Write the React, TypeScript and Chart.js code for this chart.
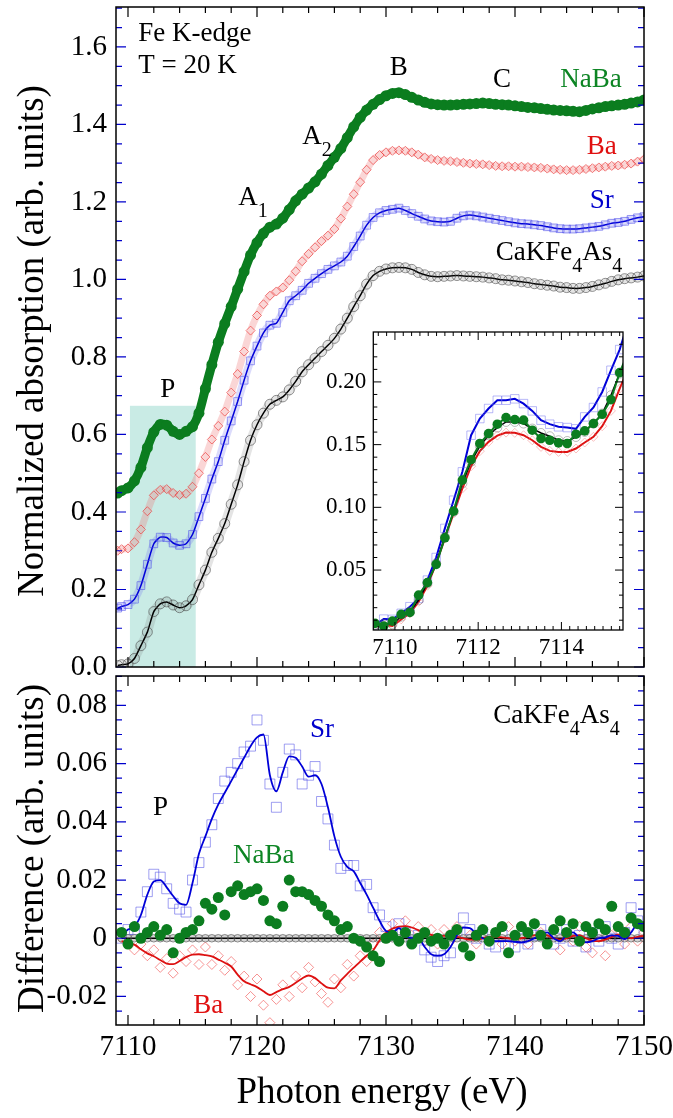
import React, { useEffect, useRef } from 'react';
import { Chart, registerables } from 'chart.js';

Chart.register(...registerables);

const FONT = "'Liberation Serif', 'Times New Roman', Times, serif";
const GREEN = '#0b7d1f';
const RED = '#dd1111';
const BLUE = '#0000d8';
const TICK_BLUE = '#0000cc';

// ---------------- Main panel (normalized absorption) ----------------
const energyMain = [
  7109.2, 7109.5, 7110.0, 7110.5, 7111.0, 7111.5, 7112.0, 7112.5, 7113.0, 7113.5, 7114.0, 7114.5, 7115.0, 7115.5,
  7116.0, 7116.5, 7117.0, 7117.5, 7118.0, 7118.5, 7119.0, 7119.5, 7120.0, 7120.5, 7121.0, 7121.5, 7122.0, 7122.5,
  7123.0, 7123.5, 7124.0, 7124.5, 7125.0, 7125.5, 7126.0, 7126.5, 7127.0, 7127.5, 7128.0, 7128.5, 7129.0, 7129.5,
  7130.0, 7130.5, 7131.0, 7131.5, 7132.0, 7132.5, 7133.0, 7133.5, 7134.0, 7134.5, 7135.0, 7135.5, 7136.0, 7136.5,
  7137.0, 7137.5, 7138.0, 7138.5, 7139.0, 7139.5, 7140.0, 7140.5, 7141.0, 7141.5, 7142.0, 7142.5, 7143.0, 7143.5,
  7144.0, 7144.5, 7145.0, 7145.5, 7146.0, 7146.5, 7147.0, 7147.5, 7148.0, 7148.5, 7149.0, 7149.5, 7150.0,
];
const naBaMain = [
  0.449, 0.455, 0.462, 0.480, 0.515, 0.566, 0.606, 0.626, 0.624, 0.608, 0.600, 0.608, 0.620, 0.655,
  0.718, 0.780, 0.838, 0.886, 0.930, 0.975, 1.020, 1.063, 1.095, 1.119, 1.135, 1.143, 1.158, 1.180,
  1.203, 1.220, 1.236, 1.252, 1.272, 1.294, 1.315, 1.338, 1.366, 1.394, 1.418, 1.437, 1.452, 1.464,
  1.474, 1.480, 1.482, 1.477, 1.470, 1.463, 1.457, 1.453, 1.451, 1.450, 1.450, 1.451, 1.452, 1.453,
  1.454, 1.455, 1.454, 1.452, 1.451, 1.450, 1.448, 1.446, 1.444, 1.443, 1.441, 1.439, 1.437, 1.436,
  1.435, 1.434, 1.433, 1.436, 1.440, 1.443, 1.446, 1.448, 1.450, 1.452, 1.455, 1.458, 1.463,
];
const baMain = [
  0.300, 0.304, 0.306, 0.322, 0.355, 0.402, 0.443, 0.457, 0.459, 0.449, 0.444, 0.447, 0.465, 0.500,
  0.542, 0.587, 0.622, 0.659, 0.708, 0.756, 0.814, 0.868, 0.907, 0.936, 0.958, 0.969, 0.979, 0.998,
  1.021, 1.047, 1.066, 1.083, 1.099, 1.113, 1.130, 1.157, 1.188, 1.220, 1.251, 1.283, 1.308, 1.321,
  1.328, 1.332, 1.333, 1.332, 1.328, 1.322, 1.315, 1.311, 1.308, 1.306, 1.305, 1.303, 1.301, 1.299,
  1.298, 1.297, 1.295, 1.293, 1.292, 1.292, 1.291, 1.291, 1.290, 1.289, 1.288, 1.286, 1.284, 1.283,
  1.282, 1.282, 1.283, 1.285, 1.287, 1.289, 1.291, 1.293, 1.294, 1.296, 1.299, 1.304, 1.310,
];
const srMain = [
  0.152, 0.156, 0.161, 0.175, 0.210, 0.265, 0.318, 0.335, 0.334, 0.320, 0.314, 0.318, 0.342, 0.388,
  0.435, 0.485, 0.530, 0.585, 0.635, 0.685, 0.740, 0.790, 0.828, 0.862, 0.882, 0.887, 0.915, 0.945,
  0.958, 0.972, 0.990, 1.003, 1.015, 1.026, 1.035, 1.045, 1.060, 1.085, 1.112, 1.140, 1.160, 1.172,
  1.178, 1.181, 1.184, 1.178, 1.170, 1.163, 1.156, 1.151, 1.149, 1.148, 1.150, 1.158, 1.164, 1.166,
  1.164, 1.161, 1.158, 1.155, 1.152, 1.149, 1.146, 1.144, 1.143, 1.141, 1.139, 1.136, 1.133, 1.131,
  1.130, 1.130, 1.131, 1.133, 1.135, 1.137, 1.141, 1.145, 1.147, 1.150, 1.155, 1.159, 1.162,
];
const caMain = [
  0.004, 0.006, 0.008, 0.022, 0.055, 0.090, 0.143, 0.163, 0.168, 0.160, 0.153, 0.158, 0.174, 0.212,
  0.250, 0.296, 0.332, 0.370, 0.420, 0.470, 0.530, 0.585, 0.625, 0.655, 0.678, 0.688, 0.697, 0.715,
  0.737, 0.762, 0.780, 0.797, 0.814, 0.830, 0.848, 0.872, 0.900, 0.930, 0.958, 0.988, 1.010, 1.021,
  1.027, 1.030, 1.031, 1.030, 1.026, 1.018, 1.012, 1.008, 1.007, 1.008, 1.009, 1.010, 1.009, 1.008,
  1.007, 1.006, 1.004, 1.002, 0.999, 0.998, 0.996, 0.994, 0.992, 0.989, 0.987, 0.985, 0.983, 0.980,
  0.979, 0.977, 0.977, 0.979, 0.982, 0.986, 0.990, 0.995, 0.999, 1.002, 1.004, 1.006, 1.009,
];
const mainYTicks = [0, 0.2, 0.4, 0.6, 0.8, 1.0, 1.2, 1.4, 1.6];

// ---------------- Inset (pre-edge, offsets removed) ----------------
const energyInset = [
  7109.52, 7109.73, 7109.94, 7110.15, 7110.36, 7110.57, 7110.78, 7110.99, 7111.2, 7111.41,
  7111.62, 7111.83, 7112.04, 7112.25, 7112.46, 7112.67, 7112.88, 7113.09, 7113.3, 7113.51,
  7113.72, 7113.93, 7114.14, 7114.35, 7114.56, 7114.77, 7114.98, 7115.19, 7115.4, 7115.61,
];
const srInset = [
  0.0062, 0.0109, 0.0107, 0.0155, 0.0208, 0.0274, 0.042, 0.060, 0.0832, 0.1057,
  0.1283, 0.1575, 0.1708, 0.1788, 0.1854, 0.1854, 0.1865, 0.1827, 0.1769, 0.1695,
  0.1663, 0.1642, 0.1636, 0.1626, 0.1721, 0.1796, 0.192, 0.2093, 0.2258, 0.248,
];
const baInset = [
  0.0054, 0.0062, 0.0054, 0.0107, 0.0155, 0.0247, 0.0375, 0.0553, 0.0752, 0.0951,
  0.115, 0.1328, 0.1448, 0.1522, 0.1572, 0.1596, 0.1594, 0.1575, 0.1535, 0.1482,
  0.145, 0.1442, 0.1442, 0.1469, 0.1517, 0.1562, 0.1647, 0.1769, 0.1947, 0.211,
];
const caInset = [
  0.0062, 0.007, 0.007, 0.0128, 0.0168, 0.0261, 0.0393, 0.0553, 0.0765, 0.0964,
  0.119, 0.1363, 0.1488, 0.1575, 0.1636, 0.1681, 0.1681, 0.1668, 0.1628, 0.1593,
  0.1567, 0.1535, 0.1529, 0.1561, 0.1601, 0.1668, 0.1748, 0.1894, 0.2066, 0.222,
];
const naBaInset = [
  0.0075, 0.0054, 0.0093, 0.0147, 0.0162, 0.030, 0.040, 0.0545, 0.0757, 0.097,
  0.1217, 0.138, 0.1509, 0.1588, 0.1663, 0.1716, 0.170, 0.1695, 0.1615, 0.1549,
  0.1535, 0.1514, 0.1509, 0.1583, 0.161, 0.1668, 0.1742, 0.1859, 0.2074, 0.224,
];
const insetXTicks = [7110, 7112, 7114];
const insetYTicks = [0.05, 0.10, 0.15, 0.20];

// ---------------- Difference panel ----------------
const energyDiff = [
  7109.5, 7110.0, 7110.5, 7111.0, 7111.5, 7112.0, 7112.5, 7113.0, 7113.5, 7114.0,
  7114.5, 7115.0, 7115.5, 7116.0, 7116.5, 7117.0, 7117.5, 7118.0, 7118.5, 7119.0,
  7119.5, 7120.0, 7120.5, 7121.0, 7121.5, 7122.0, 7122.5, 7123.0, 7123.5, 7124.0,
  7124.5, 7125.0, 7125.5, 7126.0, 7126.5, 7127.0, 7127.5, 7128.0, 7128.5, 7129.0,
  7129.5, 7130.0, 7130.5, 7131.0, 7131.5, 7132.0, 7132.5, 7133.0, 7133.5, 7134.0,
  7134.5, 7135.0, 7135.5, 7136.0, 7136.5, 7137.0, 7137.5, 7138.0, 7138.5, 7139.0,
  7139.5, 7140.0, 7140.5, 7141.0, 7141.5, 7142.0, 7142.5, 7143.0, 7143.5, 7144.0,
  7144.5, 7145.0, 7145.5, 7146.0, 7146.5, 7147.0, 7147.5, 7148.0, 7148.5, 7149.0,
  7149.5, 7150.0,
];
const srDiffPts = [
  0.000, 0.003, 0.003, 0.009, 0.016, 0.022, 0.021, 0.017, 0.012, 0.010,
  0.009, 0.020, 0.026, 0.033, 0.039, 0.048, 0.054, 0.057, 0.060, 0.064,
  0.066, 0.075, 0.068, 0.053, 0.045, 0.057, 0.065, 0.063, 0.053, 0.056,
  0.059, 0.047, 0.041, 0.032, 0.024, 0.025, 0.025, 0.018, 0.0185, 0.0105,
  0.008, 0.004, 0.001, 0.005, 0.002, -0.001, 0.001, -0.004, -0.0065, -0.008,
  -0.006, -0.005, 0.002, 0.007, 0.003, 0.000, 0.002, -0.002, -0.003, 0.001,
  -0.002, -0.003, 0.000, -0.002, 0.001, 0.003, 0.001, -0.002, 0.000, 0.003,
  -0.001, 0.001, -0.003, 0.002, -0.001, 0.004, 0.000, -0.002, 0.002, 0.0105,
  0.006, 0.002,
];
const srDiffLine = [
  0.001, 0.003, 0.004, 0.008, 0.015, 0.0195, 0.020, 0.0175, 0.0145, 0.012,
  0.0115, 0.019, 0.029, 0.035, 0.041, 0.046, 0.050, 0.054, 0.058, 0.062,
  0.066, 0.069, 0.070, 0.056, 0.0505, 0.057, 0.0625, 0.062, 0.059, 0.0555,
  0.056, 0.053, 0.045, 0.035, 0.028, 0.0245, 0.023, 0.019, 0.015, 0.0105,
  0.006, 0.0025, 0.002, 0.0035, 0.001, 0.000, 0.000, -0.003, -0.0055, -0.006,
  -0.0055, -0.003, 0.001, 0.0037, 0.0035, 0.0015, 0.000, -0.0005, -0.001, -0.001,
  -0.001, -0.0012, -0.0014, -0.001, 0.000, 0.001, 0.002, 0.000, -0.001, 0.001,
  0.002, 0.000, -0.0014, -0.001, 0.000, 0.0003, 0.001, 0.0008, -0.0003, 0.002,
  0.0048, 0.003,
];
const baDiffPts = [
  0.000, -0.002, -0.004, -0.002, -0.006, -0.004, -0.010, -0.007, -0.012, -0.006,
  -0.008, -0.004, -0.009, -0.003, -0.009, -0.006, -0.011, -0.008, -0.016, -0.013,
  -0.020, -0.014, -0.023, -0.029, -0.021, -0.016, -0.020, -0.013, -0.017, -0.010,
  -0.015, -0.019, -0.022, -0.014, -0.017, -0.009, -0.013, -0.006, -0.008, -0.002,
  0.002, 0.000, 0.005, 0.002, 0.006, 0.001, 0.004, -0.001, 0.003, -0.002,
  0.003, -0.001, 0.004, -0.003, 0.001, -0.002, 0.003, -0.001, 0.002, -0.002,
  0.004, -0.001, 0.001, -0.002, 0.005, 0.002, -0.001, 0.003, -0.004, 0.001,
  -0.001, 0.004, -0.003, -0.005, 0.002, -0.006, 0.001, 0.003, -0.002, 0.004,
  -0.001, 0.002,
];
const baDiffLine = [
  -0.001, -0.0015, -0.0022, -0.0038, -0.0052, -0.0062, -0.0075, -0.0087, -0.0089, -0.0078,
  -0.0065, -0.0056, -0.0055, -0.0058, -0.0062, -0.0073, -0.0084, -0.0097, -0.0125, -0.0148,
  -0.0158, -0.0168, -0.0182, -0.0195, -0.0185, -0.0175, -0.0167, -0.0153, -0.0138, -0.0128,
  -0.0137, -0.0155, -0.017, -0.0172, -0.0145, -0.0122, -0.0101, -0.008, -0.006, -0.0042,
  -0.0008, 0.0018, 0.0033, 0.004, 0.0042, 0.0037, 0.0028, 0.0018, 0.0012, 0.0008,
  0.0008, 0.0008, 0.0005, 0.0, -0.0005, -0.0005, 0.0, 0.0005, 0.0005, 0.0003,
  0.0, -0.0003, 0.0, 0.0005, 0.001, 0.0012, 0.001, 0.0, -0.0005, 0.0,
  0.0008, 0.001, 0.0, -0.0008, -0.001, -0.0005, 0.0005, 0.0012, 0.0008, 0.0,
  0.0005, 0.0008,
];
const naBaDiffPts = [
  0.002, -0.002, 0.004, 0.000, 0.002, 0.004, 0.001, 0.003, -0.005, 0.000,
  0.002, 0.003, 0.006, 0.012, 0.010, 0.014, 0.008, 0.016, 0.018, 0.015,
  0.016, 0.017, 0.013, 0.006, 0.005, 0.011, 0.020, 0.016, 0.016, 0.015,
  0.013, 0.011, 0.008, 0.006, 0.003, 0.004, 0.000, -0.001, -0.003, -0.006,
  -0.008, 0.000, 0.001, -0.001, 0.002, -0.002, 0.000, 0.002, -0.001, 0.000,
  -0.002, 0.001, 0.003, -0.003, -0.006, 0.001, 0.003, -0.001, 0.002, 0.004,
  -0.005, 0.001, 0.004, 0.002, 0.005, 0.001, -0.002, 0.003, 0.006, 0.002,
  0.005, -0.001, 0.004, 0.002, 0.005, 0.003, 0.011, 0.004, 0.002, 0.007,
  0.005, 0.004,
];
const caDiffPts = [
  0, 0, 0, 0, 0, 0, 0, 0, 0, 0,
  0, 0, 0, 0, 0, 0, 0, 0, 0, 0,
  0, 0, 0, 0, 0, 0, 0, 0, 0, 0,
  0, 0, 0, 0, 0, 0, 0, 0, 0, 0,
  0, 0, 0, 0, 0, 0, 0, 0, 0, 0,
  0, 0, 0, 0, 0, 0, 0, 0, 0, 0,
  0, 0, 0, 0, 0, 0, 0, 0, 0, 0,
  0, 0, 0, 0, 0, 0, 0, 0, 0, 0,
  0, 0,
];
const diffYTicks = [-0.02, 0, 0.02, 0.04, 0.06, 0.08];
const energyTicks = [7110, 7120, 7130, 7140, 7150];

// axis ranges
const X_MIN = 7109.07;
const X_MAX = 7150;
const MAIN_Y = [0, 1.703];
const DIFF_Y = [-0.0298, 0.0901];
const INSET_X = [7109.48, 7115.48];
const INSET_Y = [0.0022, 0.2398];

// highlighted pre-edge region "P"
const pBox = { x0: 7110.15, x1: 7115.25, y0: 0, y1: 0.674 };

type Seg = { s: string; sub?: boolean };
type Note = { segs: Seg[]; x: number; y: number; color: string };

const TXT_GREEN = '#0d8524';
const TXT_RED = '#e01010';
const TXT_BLUE = '#0000cc';

const topNotes: Note[] = [
  { segs: [{ s: 'Fe K-edge' }], x: 7110.8, y: 1.614, color: '#000' },
  { segs: [{ s: 'T = 20 K' }], x: 7110.8, y: 1.532, color: '#000' },
  { segs: [{ s: 'A' }, { s: '1', sub: true }], x: 7118.55, y: 1.192, color: '#000' },
  { segs: [{ s: 'A' }, { s: '2', sub: true }], x: 7123.5, y: 1.35, color: '#000' },
  { segs: [{ s: 'B' }], x: 7130.3, y: 1.528, color: '#000' },
  { segs: [{ s: 'C' }], x: 7138.3, y: 1.497, color: '#000' },
  { segs: [{ s: 'NaBa' }], x: 7143.5, y: 1.496, color: TXT_GREEN },
  { segs: [{ s: 'Ba' }], x: 7145.56, y: 1.324, color: TXT_RED },
  { segs: [{ s: 'Sr' }], x: 7145.8, y: 1.184, color: TXT_BLUE },
  { segs: [{ s: 'CaKFe' }, { s: '4', sub: true }, { s: 'As' }, { s: '4', sub: true }], x: 7138.5, y: 1.05, color: '#000' },
  { segs: [{ s: 'P' }], x: 7112.5, y: 0.6975, color: '#000' },
];
const diffNotes: Note[] = [
  { segs: [{ s: 'P' }], x: 7111.94, y: 0.0424, color: '#000' },
  { segs: [{ s: 'Sr' }], x: 7124.1, y: 0.069, color: TXT_BLUE },
  { segs: [{ s: 'NaBa' }], x: 7118.14, y: 0.0258, color: TXT_GREEN },
  { segs: [{ s: 'CaKFe' }, { s: '4', sub: true }, { s: 'As' }, { s: '4', sub: true }], x: 7138.32, y: 0.0741, color: '#000' },
  { segs: [{ s: 'Ba' }], x: 7115.06, y: -0.0257, color: TXT_RED },
];

const pts = (xs: number[], ys: number[]) => xs.map((x, i) => ({ x, y: ys[i] }));

function drawNotes(chart: any, notes: Note[], size: number, subSize: number, subShift: number) {
  const ctx = chart.ctx;
  const xs = chart.scales.x;
  const ys = chart.scales.y;
  ctx.save();
  ctx.textAlign = 'left';
  ctx.textBaseline = 'alphabetic';
  for (const n of notes) {
    let px = xs.getPixelForValue(n.x);
    const py = ys.getPixelForValue(n.y);
    ctx.fillStyle = n.color;
    for (const seg of n.segs) {
      ctx.font = `${seg.sub ? subSize : size}px ${FONT}`;
      ctx.fillText(seg.s, px, py + (seg.sub ? subShift : 0));
      px += ctx.measureText(seg.s).width;
    }
  }
  ctx.restore();
}

type FrameCfg = {
  xMinor: number; xRatio: number; yMinor: number; yRatio: number;
  xColor: string; yColor: string; major: number; minor: number; frame: number; tick: number;
};

function drawFrame(chart: any, c: FrameCfg) {
  const ctx = chart.ctx;
  const a = chart.chartArea;
  const xs = chart.scales.x;
  const ys = chart.scales.y;
  ctx.save();
  ctx.lineWidth = c.tick;
  ctx.strokeStyle = c.xColor;
  ctx.beginPath();
  const i0 = Math.ceil(xs.min / c.xMinor - 1e-6);
  const i1 = Math.floor(xs.max / c.xMinor + 1e-6);
  for (let i = i0; i <= i1; i++) {
    const len = i % c.xRatio === 0 ? c.major : c.minor;
    const px = xs.getPixelForValue(i * c.xMinor);
    ctx.moveTo(px, a.bottom);
    ctx.lineTo(px, a.bottom - len);
    ctx.moveTo(px, a.top);
    ctx.lineTo(px, a.top + len);
  }
  ctx.stroke();
  ctx.strokeStyle = c.yColor;
  ctx.beginPath();
  const j0 = Math.ceil(ys.min / c.yMinor - 1e-6);
  const j1 = Math.floor(ys.max / c.yMinor + 1e-6);
  for (let j = j0; j <= j1; j++) {
    const len = j % c.yRatio === 0 ? c.major : c.minor;
    const py = ys.getPixelForValue(j * c.yMinor);
    ctx.moveTo(a.left, py);
    ctx.lineTo(a.left + len, py);
    ctx.moveTo(a.right, py);
    ctx.lineTo(a.right - len, py);
  }
  ctx.stroke();
  ctx.strokeStyle = '#000';
  ctx.lineWidth = c.frame;
  ctx.strokeRect(a.left, a.top, a.right - a.left, a.bottom - a.top);
  ctx.restore();
}

function drawYTitle(chart: any, text: string, x: number, yShift: number, size: number) {
  const ctx = chart.ctx;
  const a = chart.chartArea;
  ctx.save();
  ctx.translate(x, (a.top + a.bottom) / 2 + yShift);
  ctx.rotate(-Math.PI / 2);
  ctx.font = `${size}px ${FONT}`;
  ctx.fillStyle = '#000';
  ctx.textAlign = 'center';
  ctx.textBaseline = 'middle';
  ctx.fillText(text, 0, 0);
  ctx.restore();
}

function yAxis(min: number, max: number, width: number, ticksArr: number[], fmt: (v: number) => string, size: number, pad: number) {
  return {
    type: 'linear',
    position: 'left',
    min,
    max,
    grid: { display: false, drawTicks: false },
    border: { display: false },
    ticks: {
      font: { family: FONT, size },
      color: '#000',
      padding: pad,
      autoSkip: false,
      callback: (v: any) => fmt(Number(v)),
    },
    afterBuildTicks: (s: any) => {
      s.ticks = ticksArr.map((v) => ({ value: v }));
    },
    afterFit: (s: any) => {
      s.width = width;
      s.paddingTop = 0;
      s.paddingBottom = 0;
    },
  };
}

function xAxis(min: number, max: number, height: number, ticksArr: number[], size: number, pad: number, display: boolean) {
  return {
    type: 'linear',
    position: 'bottom',
    min,
    max,
    display,
    grid: { display: false, drawTicks: false },
    border: { display: false },
    ticks: {
      font: { family: FONT, size },
      color: '#000',
      padding: pad,
      autoSkip: false,
      maxRotation: 0,
      callback: (v: any) => String(v),
    },
    afterBuildTicks: (s: any) => {
      s.ticks = ticksArr.map((v) => ({ value: v }));
    },
    afterFit: (s: any) => {
      s.height = height;
      s.paddingLeft = 0;
      s.paddingRight = 0;
    },
  };
}

const baseOptions = {
  animation: false,
  responsive: false,
  devicePixelRatio: 1,
  events: [],
  plugins: { legend: { display: false }, tooltip: { enabled: false } },
};

// a wide, pale stroke under densely packed markers (the measured points overlap into a band)
function band(label: string, xs: number[], ys: number[], color: string, width: number, order: number) {
  return {
    label, data: pts(xs, ys), showLine: true, order, tension: 0.25,
    borderColor: color, borderWidth: width, borderCapStyle: 'round', borderJoinStyle: 'round', pointRadius: 0,
  };
}

function makeTop(canvas: HTMLCanvasElement) {
  const deco = {
    id: 'topDeco',
    beforeDatasetsDraw(chart: any) {
      const ctx = chart.ctx;
      const xs = chart.scales.x;
      const ys = chart.scales.y;
      const x0 = xs.getPixelForValue(pBox.x0);
      const x1 = xs.getPixelForValue(pBox.x1);
      const y0 = ys.getPixelForValue(pBox.y0);
      const y1 = ys.getPixelForValue(pBox.y1);
      ctx.save();
      ctx.fillStyle = '#c9ebe5';
      ctx.fillRect(x0, y1, x1 - x0, y0 - y1);
      ctx.restore();
    },
    afterDraw(chart: any) {
      drawFrame(chart, {
        xMinor: 2, xRatio: 5, yMinor: 0.05, yRatio: 4,
        xColor: '#000', yColor: TICK_BLUE, major: 10, minor: 6, frame: 1.5, tick: 1.2,
      });
      drawNotes(chart, topNotes, 27, 20, 12);
      drawYTitle(chart, 'Normalized absorption (arb. units)', 33, 4, 37);
    },
  };
  return new Chart(canvas, {
    type: 'scatter',
    data: {
      datasets: [
        {
          label: 'NaBa', data: pts(energyMain, naBaMain), showLine: false, order: 1,
          pointStyle: 'circle', pointRadius: 5.5, pointBackgroundColor: GREEN, pointBorderColor: GREEN, pointBorderWidth: 0,
        },
        band('NaBa band', energyMain, naBaMain, GREEN, 9, 2),
        {
          label: 'Ba', data: pts(energyMain, baMain), showLine: false, order: 3,
          pointStyle: 'rectRot', pointRadius: 4.5, pointBackgroundColor: 'rgba(0,0,0,0)',
          pointBorderColor: 'rgba(235,60,60,0.85)', pointBorderWidth: 0.8,
        },
        band('Ba band', energyMain, baMain, 'rgba(240,120,120,0.3)', 7, 4),
        {
          label: 'Sr', data: pts(energyMain, srMain), showLine: true, order: 5, tension: 0.2,
          borderColor: BLUE, borderWidth: 1.5,
          pointStyle: 'rect', pointRadius: 5.5, pointBackgroundColor: 'rgba(0,0,0,0)',
          pointBorderColor: 'rgba(70,70,235,0.6)', pointBorderWidth: 0.9,
        },
        band('Sr band', energyMain, srMain, 'rgba(110,110,240,0.25)', 8, 6),
        {
          label: 'CaKFe4As4', data: pts(energyMain, caMain), showLine: true, order: 7, tension: 0.2,
          borderColor: '#000', borderWidth: 1.5,
          pointStyle: 'circle', pointRadius: 5, pointBackgroundColor: 'rgba(0,0,0,0)',
          pointBorderColor: 'rgba(70,70,70,0.75)', pointBorderWidth: 0.8,
        },
        band('Ca band', energyMain, caMain, 'rgba(120,120,120,0.2)', 9, 8),
      ],
    },
    options: {
      ...baseOptions,
      layout: { padding: { left: 0, right: 29, top: 7, bottom: 23 } },
      scales: {
        x: xAxis(X_MIN, X_MAX, 0, energyTicks, 29, 5, false),
        y: yAxis(MAIN_Y[0], MAIN_Y[1], 116, mainYTicks, (v) => v.toFixed(1), 29, 9),
      },
    },
    plugins: [deco],
  } as any);
}

function makeInset(canvas: HTMLCanvasElement) {
  const deco = {
    id: 'insetDeco',
    beforeDraw(chart: any) {
      const a = chart.chartArea;
      const ctx = chart.ctx;
      ctx.save();
      ctx.fillStyle = '#fff';
      ctx.fillRect(a.left, a.top, a.right - a.left, a.bottom - a.top);
      ctx.restore();
    },
    afterDraw(chart: any) {
      drawFrame(chart, {
        xMinor: 0.2, xRatio: 10, yMinor: 0.01, yRatio: 5,
        xColor: '#000', yColor: '#000', major: 8, minor: 4, frame: 1.3, tick: 1,
      });
    },
  };
  return new Chart(canvas, {
    type: 'scatter',
    data: {
      datasets: [
        {
          label: 'NaBa', data: pts(energyInset, naBaInset), showLine: true, order: 0, tension: 0,
          borderColor: GREEN, borderWidth: 2,
          pointStyle: 'circle', pointRadius: 4.8, pointBackgroundColor: GREEN, pointBorderColor: GREEN, pointBorderWidth: 0,
        },
        {
          label: 'CaKFe4As4', data: pts(energyInset, caInset), showLine: true, order: 1, tension: 0,
          borderColor: '#000', borderWidth: 1.5,
          pointStyle: 'circle', pointRadius: 4.5, pointBackgroundColor: 'rgba(0,0,0,0)',
          pointBorderColor: 'rgba(110,110,110,0.6)', pointBorderWidth: 0.8,
        },
        {
          label: 'Sr', data: pts(energyInset, srInset), showLine: true, order: 2, tension: 0,
          borderColor: BLUE, borderWidth: 2,
          pointStyle: 'rect', pointRadius: 6, pointBackgroundColor: 'rgba(0,0,0,0)',
          pointBorderColor: 'rgba(100,100,240,0.45)', pointBorderWidth: 1,
        },
        {
          label: 'Ba', data: pts(energyInset, baInset), showLine: true, order: 3, tension: 0,
          borderColor: RED, borderWidth: 2,
          pointStyle: 'rectRot', pointRadius: 4.5, pointBackgroundColor: 'rgba(0,0,0,0)',
          pointBorderColor: 'rgba(240,100,100,0.5)', pointBorderWidth: 0.8,
        },
      ],
    },
    options: {
      ...baseOptions,
      layout: { padding: { left: 0, right: 6.7, top: 6.7, bottom: 0 } },
      scales: {
        x: xAxis(INSET_X[0], INSET_X[1], 35, insetXTicks, 23, 4, true),
        y: yAxis(INSET_Y[0], INSET_Y[1], 55.3, insetYTicks, (v) => v.toFixed(2), 23, 7),
      },
    },
    plugins: [deco],
  } as any);
}

function makeBottom(canvas: HTMLCanvasElement) {
  const deco = {
    id: 'diffDeco',
    afterDraw(chart: any) {
      drawFrame(chart, {
        xMinor: 2, xRatio: 5, yMinor: 0.005, yRatio: 4,
        xColor: '#000', yColor: TICK_BLUE, major: 10, minor: 6, frame: 1.5, tick: 1.2,
      });
      drawNotes(chart, diffNotes, 27, 20, 12);
      drawYTitle(chart, 'Difference (arb. units)', 33, -2, 37);
      const a = chart.chartArea;
      const ctx = chart.ctx;
      ctx.save();
      ctx.font = `37px ${FONT}`;
      ctx.fillStyle = '#000';
      ctx.textAlign = 'center';
      ctx.textBaseline = 'alphabetic';
      ctx.fillText('Photon energy (eV)', (a.left + a.right) / 2 + 2, a.bottom + 78);
      ctx.restore();
    },
  };
  return new Chart(canvas, {
    type: 'scatter',
    data: {
      datasets: [
        {
          label: 'NaBa', data: pts(energyDiff, naBaDiffPts), showLine: false, order: 0,
          pointStyle: 'circle', pointRadius: 5.5, pointBackgroundColor: GREEN, pointBorderColor: GREEN, pointBorderWidth: 0,
        },
        {
          label: 'Sr fit', data: pts(energyDiff, srDiffLine), showLine: true, order: 1,
          cubicInterpolationMode: 'monotone', borderColor: BLUE, borderWidth: 1.8, pointRadius: 0,
        },
        {
          label: 'Ba fit', data: pts(energyDiff, baDiffLine), showLine: true, order: 2,
          cubicInterpolationMode: 'monotone', borderColor: RED, borderWidth: 1.8, pointRadius: 0,
        },
        {
          label: 'CaKFe4As4', data: pts(energyDiff, caDiffPts), showLine: true, order: 3,
          borderColor: '#000', borderWidth: 1.5,
          pointStyle: 'circle', pointRadius: 3.8, pointBackgroundColor: 'rgba(0,0,0,0)',
          pointBorderColor: 'rgba(90,90,90,0.85)', pointBorderWidth: 0.8,
        },
        band('Ca zero band', energyDiff, caDiffPts, 'rgba(130,130,130,0.35)', 7, 4),
        {
          label: 'Sr', data: pts(energyDiff, srDiffPts), showLine: false, order: 5,
          pointStyle: 'rect', pointRadius: 7, pointBackgroundColor: 'rgba(0,0,0,0)',
          pointBorderColor: 'rgba(80,80,230,0.55)', pointBorderWidth: 1,
        },
        {
          label: 'Ba', data: pts(energyDiff, baDiffPts), showLine: false, order: 6,
          pointStyle: 'rectRot', pointRadius: 5, pointBackgroundColor: 'rgba(0,0,0,0)',
          pointBorderColor: 'rgba(240,70,70,0.65)', pointBorderWidth: 0.9,
        },
      ],
    },
    options: {
      ...baseOptions,
      layout: { padding: { left: 0, right: 29, top: 5, bottom: 0 } },
      scales: {
        x: xAxis(X_MIN, X_MAX, 93, energyTicks, 29, 5, true),
        y: yAxis(DIFF_Y[0], DIFF_Y[1], 116, diffYTicks, (v) => (Math.abs(v) < 1e-9 ? '0' : v.toFixed(2)), 29, 9),
      },
    },
    plugins: [deco],
  } as any);
}

export default function App() {
  const topRef = useRef<HTMLCanvasElement>(null);
  const botRef = useRef<HTMLCanvasElement>(null);
  const insetRef = useRef<HTMLCanvasElement>(null);

  useEffect(() => {
    document.body.style.margin = '0';
    const charts: Chart[] = [];
    if (topRef.current) charts.push(makeTop(topRef.current));
    if (botRef.current) charts.push(makeBottom(botRef.current));
    if (insetRef.current) charts.push(makeInset(insetRef.current));
    let alive = true;
    const fonts: any = (document as any).fonts;
    if (fonts && fonts.load) {
      fonts.load(`29px "Liberation Serif"`).then(() => {
        if (alive) charts.forEach((c) => c.update());
      }).catch(() => undefined);
    }
    return () => {
      alive = false;
      charts.forEach((c) => c.destroy());
    };
  }, []);

  return (
    <div style={{ position: 'relative', width: 673, height: 1118, background: '#fff', overflow: 'hidden' }}>
      <canvas ref={topRef} width={673} height={690} style={{ position: 'absolute', left: 0, top: 0, width: 673, height: 690 }} />
      <canvas ref={botRef} width={673} height={450} style={{ position: 'absolute', left: 0, top: 668, width: 673, height: 450 }} />
      <canvas ref={insetRef} width={312} height={340} style={{ position: 'absolute', left: 318, top: 325, width: 312, height: 340 }} />
    </div>
  );
}
